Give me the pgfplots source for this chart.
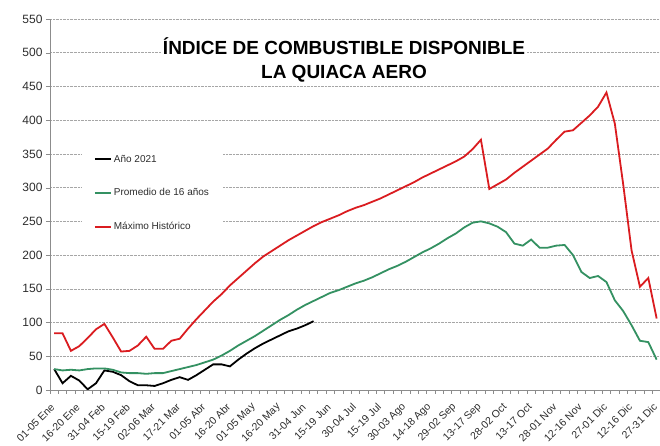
\documentclass[border=0pt]{standalone}
\usepackage{fontspec}
\setmainfont{Liberation Sans}
\usepackage{pgfplots}
\pgfplotsset{compat=1.18}
\definecolor{cred}{RGB}{218,28,32}
\definecolor{cgreen}{RGB}{52,145,98}
\definecolor{txt}{RGB}{45,45,45}
\definecolor{axgray}{RGB}{140,140,140}
\begin{document}
\begin{tikzpicture}
\begin{axis}[
  scale only axis, width=610bp, height=371bp,
  xmin=-0.5, xmax=72.4, ymin=0, ymax=550,
  axis lines=left,
  axis line style={-, draw=axgray, line width=0.8bp},
  ytick={0,50,...,550},
  xtick={0,3,...,72},
  xticklabels={01-05 Ene, 16-20 Ene, 31-04 Feb, 15-19 Feb, 02-06 Mar, 17-21 Mar, 01-05 Abr, 16-20 Abr, 01-05 May, 16-20 May, 31-04 Jun, 15-19 Jun, 30-04 Jul, 15-19 Jul, 30-03 Ago, 14-18 Ago, 29-02 Sep, 13-17 Sep, 28-02 Oct, 13-17 Oct, 28-01 Nov, 12-16 Nov, 27-01 Dic, 12-16 Dic, 27-31 Dic},
  minor xtick={-0.5,0.5,...,72.5},
  tick align=outside,
  major tick length=4bp, minor tick length=4bp,
  major x tick style={draw=none},
  y tick style={draw=axgray},
  minor x tick style={draw=axgray, line width=0.6bp},
  ymajorgrids,
  grid style={densely dotted, draw=gray!70, line width=0.6bp},
  /pgf/number format/assume math mode=true,
  yticklabel style={font=\fontsize{12bp}{14bp}\selectfont, text=txt},
  xticklabel style={xshift=-0.5bp, yshift=-10.5bp, rotate=45, anchor=east, font=\fontsize{10.5bp}{12bp}\selectfont, text=txt, inner sep=1bp},
  legend style={at={(0.052,0.666)}, anchor=north west, draw=none, fill=white,
    font=\fontsize{10bp}{12bp}\selectfont, text=txt, row sep=21bp, inner xsep=12bp, inner ysep=10bp},
  legend cell align=left,
  legend image code/.code={\draw[#1, line width=2bp] (0bp,0bp) -- (16bp,0bp);},
]
\addplot[black, line width=1.8bp] coordinates {
(0,31)(1,10)(2,21)(3,14)(4,1)(5,10)(6,29)(7,27)(8,22)(9,13)
(10,7)(11,7)(12,6)(13,10)(14,15)(15,19)(16,15)(17,22)(18,30)(19,38)
(20,38)(21,35)(22,45)(23,54)(24,62)(25,69)(26,75)(27,81)(28,87)(29,91)
(30,96)(31,102)};
\addlegendentry{Año 2021}
\addplot[cgreen, line width=1.8bp] coordinates {
(0,31)(1,29)(2,30)(3,29)(4,31)(5,32)(6,32)(7,30)(8,26)(9,25)
(10,25)(11,24)(12,25)(13,25)(14,28)(15,31)(16,34)(17,37)(18,41)(19,45)
(20,51)(21,58)(22,66)(23,73)(24,80)(25,88)(26,96)(27,104)(28,111)(29,119)
(30,126)(31,132)(32,138)(33,144)(34,148)(35,153)(36,158)(37,162)(38,167)(39,173)
(40,179)(41,184)(42,190)(43,197)(44,204)(45,210)(46,217)(47,225)(48,232)(49,241)
(50,248)(51,250)(52,247)(53,242)(54,234)(55,217)(56,214)(57,223)(58,211)(59,211)
(60,214)(61,215)(62,200)(63,175)(64,166)(65,169)(66,160)(67,133)(68,117)(69,96)
(70,73)(71,71)(72,45)};
\addlegendentry{Promedio de 16 años}
\addplot[cred, line width=1.8bp] coordinates {
(0,84)(1,84)(2,58)(3,65)(4,77)(5,90)(6,98)(7,78)(8,57)(9,58)
(10,66)(11,79)(12,61)(13,61)(14,73)(15,76)(16,91)(17,105)(18,118)(19,131)
(20,142)(21,155)(22,166)(23,177)(24,188)(25,198)(26,206)(27,214)(28,222)(29,229)
(30,236)(31,243)(32,249)(33,254)(34,259)(35,265)(36,270)(37,274)(38,279)(39,284)
(40,290)(41,296)(42,302)(43,308)(44,315)(45,321)(46,327)(47,333)(48,339)(49,346)
(50,357)(51,371)(52,298)(53,305)(54,312)(55,322)(56,331)(57,340)(58,349)(59,358)
(60,371)(61,383)(62,385)(63,396)(64,407)(65,420)(66,441)(67,395)(68,305)(69,207)
(70,153)(71,166)(72,106)};
\addlegendentry{Máximo Histórico}
\node[fill=white, inner sep=2bp, align=center, text=black,
  font=\fontsize{19bp}{24bp}\selectfont\bfseries] at (rel axis cs:0.482,0.889)
  {ÍNDICE DE COMBUSTIBLE DISPONIBLE\\LA QUIACA AERO};
\end{axis}
\pgfresetboundingbox
\path ([shift={(-50bp,-56bp)}]current axis.south west) rectangle ([shift={(0bp,19bp)}]current axis.north east);
\end{tikzpicture}
\end{document}
